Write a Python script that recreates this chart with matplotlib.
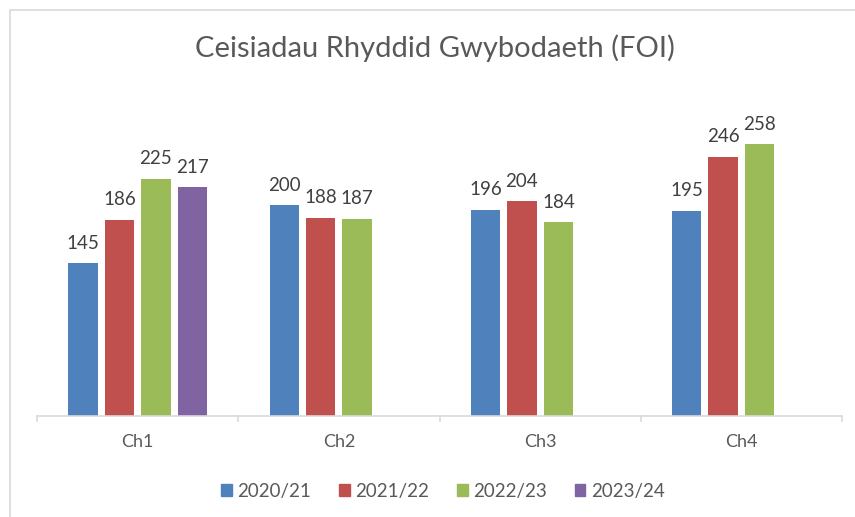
import matplotlib.pyplot as plt
import matplotlib.patches as mpatches
import numpy as np

plt.rcParams['font.family'] = ['Lato', 'DejaVu Sans']

categories = ['Ch1', 'Ch2', 'Ch3', 'Ch4']
years = ['2020/21', '2021/22', '2022/23', '2023/24']
vals_2020 = [145, 200, 196, 195]
vals_2021 = [186, 188, 204, 246]
vals_2022 = [225, 187, 184, 258]
vals_2023 = [217, None, None, None]
colors = ['#4f81bd', '#c0504d', '#9bbb59', '#8064a2']

series = [vals_2020, vals_2021, vals_2022, vals_2023]

fig = plt.figure(figsize=(8.55, 5.17), dpi=100)
ax = fig.add_axes([37/855, 101/517, 805/855, 316/517])

# chart border like excel
fig.patches.append(mpatches.Rectangle((10/855, -0.1), 1.0, (507/517) + 0.1,
                                      transform=fig.transFigure, fill=False,
                                      edgecolor='#d9d9d9', linewidth=1.2))

x = np.arange(len(categories))
slot = 0.181
bw = 0.146
for i, (vals, c, lab) in enumerate(zip(series, colors, years)):
    off = (i - 1.5) * slot
    xs = [xi + off for xi, v in zip(x, vals) if v is not None]
    vs = [v for v in vals if v is not None]
    bars = ax.bar(xs, vs, width=bw, color=c, label=lab)
    for b, v in zip(bars, vs):
        ax.text(b.get_x() + b.get_width()/2, v + 11, str(v), ha='center', va='bottom',
                fontsize=13.5, color='#404040')

ax.set_xlim(-0.5, 3.5)
ax.set_ylim(0, 300)
ax.set_yticks([])
for s in ['top', 'right', 'left']:
    ax.spines[s].set_visible(False)
ax.spines['bottom'].set_color('#d9d9d9')
ax.spines['bottom'].set_linewidth(1.2)

ax.set_xticks(x)
ax.set_xticklabels(categories, fontsize=13, color='#595959')
ax.tick_params(axis='x', length=0, pad=13)
# boundary tick marks
for b in np.arange(-0.5, 4.0, 1.0):
    ax.plot([b, b], [0, -5], color='#d9d9d9', lw=1.2, clip_on=False)

fig.text(435/855, 1 - 48/517, 'Ceisiadau Rhyddid Gwybodaeth (FOI)', ha='center', va='center',
         fontsize=21, color='#595959')

handles = [mpatches.Patch(color=c) for c in colors]
fig.legend(handles, years, loc='center', bbox_to_anchor=(443/855, 1 - 491/517), ncol=4,
           frameon=False, fontsize=13.5, handlelength=0.55, handleheight=0.55,
           handletextpad=0.3, columnspacing=1.5, labelcolor='#595959')

fig.savefig('out.png', dpi=100)
